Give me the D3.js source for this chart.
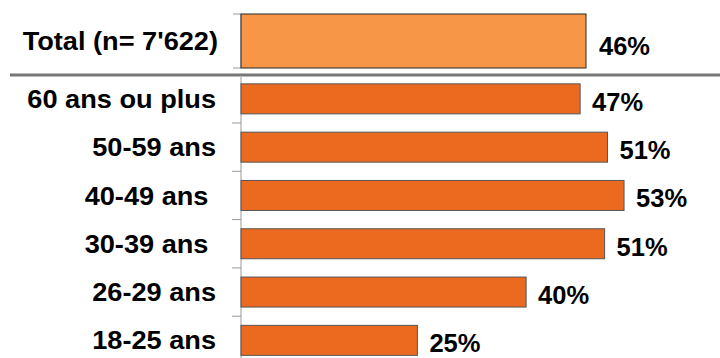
<!DOCTYPE html>
<html><head><meta charset="utf-8">
<script src="https://cdn.jsdelivr.net/npm/d3@7"></script>
<style>body{margin:0;background:#fff}svg{display:block}text{font-family:"Liberation Sans",Arial,sans-serif;font-weight:bold;fill:#000}</style>
</head><body>
<script>
const totalCategory = ["Total (n= 7'622)"];
const totalValues = [46];
const ageCategories = ["60 ans ou plus", "50-59 ans", "40-49 ans ", "30-39 ans ", "26-29 ans", "18-25 ans"];
const ageValues = [47.1, 50.9, 53.2, 50.5, 39.6, 24.5];

const W = 720, H = 358;
const svg = d3.select("body").append("svg").attr("width", W).attr("height", H);
const x0 = 241;
const stretch = 1.045;

// Total panel
const xT = d3.scaleLinear().domain([0, 60]).range([x0, x0 + 450]);
const yT = d3.scaleBand().domain(totalCategory).range([14, 68]).padding(0);
svg.append("line").attr("x1", x0).attr("x2", x0).attr("y1", 14).attr("y2", 68).attr("stroke", "#999").attr("stroke-width", 1);
[14, 68].forEach(y => svg.append("line").attr("x1", x0 - 8).attr("x2", x0).attr("y1", y).attr("y2", y).attr("stroke", "#999"));
svg.selectAll(".tbar").data(totalValues).join("rect")
  .attr("x", xT(0)).attr("y", (d, i) => yT(totalCategory[i]))
  .attr("width", d => xT(d) - xT(0)).attr("height", yT.bandwidth())
  .attr("fill", "#F79646").attr("stroke", "#262626").attr("stroke-width", 1);
svg.selectAll(".tcat").data(totalCategory).join("text")
  .attr("transform", d => `translate(218,${yT(d) + yT.bandwidth() / 2}) scale(${stretch},1)`).attr("dy", "0.35em")
  .attr("text-anchor", "end").attr("font-size", 26).text(d => d);
svg.selectAll(".tlab").data(totalValues).join("text")
  .attr("x", d => xT(d) + 13).attr("y", (d, i) => yT(totalCategory[i]) + yT.bandwidth() / 2 + 5).attr("dy", "0.35em")
  .attr("font-size", 25.5).text(d => Math.round(d) + "%");

// Separator
svg.append("line").attr("x1", 10).attr("x2", W).attr("y1", 75).attr("y2", 75).attr("stroke", "#777").attr("stroke-width", 3);

// Age panel
const xA = d3.scaleLinear().domain([0, 60]).range([x0, x0 + 432]);
const yA = d3.scaleBand().domain(ageCategories).range([74.7, 364.5]).paddingInner(0.379).paddingOuter(0.1895);
svg.append("line").attr("x1", x0).attr("x2", x0).attr("y1", 77).attr("y2", H).attr("stroke", "#999").attr("stroke-width", 1);
ageCategories.slice(1).forEach(c => {
  const y = yA(c) - yA.step() * yA.paddingInner() / 2;
  svg.append("line").attr("x1", x0 - 9).attr("x2", x0).attr("y1", y).attr("y2", y).attr("stroke", "#999");
});
svg.selectAll(".abar").data(ageValues).join("rect")
  .attr("x", xA(0)).attr("y", (d, i) => yA(ageCategories[i]))
  .attr("width", d => xA(d) - xA(0)).attr("height", yA.bandwidth())
  .attr("fill", "#EC6A1F").attr("stroke", "#555").attr("stroke-width", 1);
svg.selectAll(".acat").data(ageCategories).join("text")
  .attr("transform", d => `translate(216,${yA(d) + yA.bandwidth() / 2}) scale(${stretch},1)`).attr("dy", "0.35em")
  .attr("text-anchor", "end").attr("font-size", 26).style("white-space", "pre").text(d => d);
svg.selectAll(".alab").data(ageValues).join("text")
  .attr("x", d => xA(d) + 12).attr("y", (d, i) => yA(ageCategories[i]) + yA.bandwidth() / 2 + 3).attr("dy", "0.35em")
  .attr("font-size", 25.5).text(d => Math.round(d) + "%");
</script>
</body></html>
